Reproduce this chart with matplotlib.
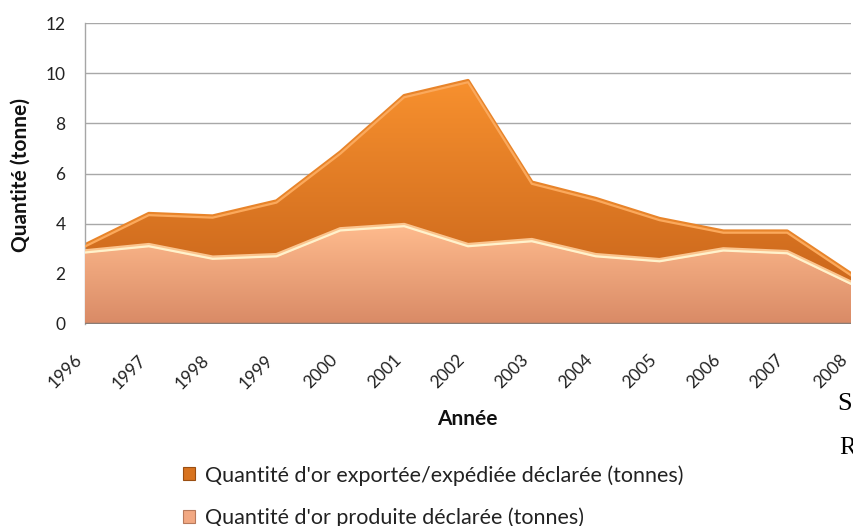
import numpy as np
import matplotlib
matplotlib.use("Agg")
import matplotlib.pyplot as plt
from matplotlib.patches import Polygon, Patch
from matplotlib.colors import LinearSegmentedColormap
import matplotlib.transforms as mtransforms

plt.rcParams['font.family'] = ['Lato', 'DejaVu Sans']

years = ['1996', '1997', '1998', '1999', '2000', '2001', '2002',
         '2003', '2004', '2005', '2006', '2007', '2008']
exportee = [3.15, 4.4, 4.3, 4.9, 6.85, 9.1, 9.7, 5.65, 5.0, 4.2, 3.7, 3.7, 2.0]
produite = [2.9, 3.15, 2.65, 2.75, 3.78, 3.95, 3.15, 3.35, 2.75, 2.55, 2.98, 2.87, 1.65]
yticks = [0, 2, 4, 6, 8, 10, 12]

label_exp = "Quantité d'or exportée/expédiée déclarée (tonnes)"
label_prod = "Quantité d'or produite déclarée (tonnes)"

W, H = 854, 526
fig = plt.figure(figsize=(W / 100, H / 100), dpi=100)
ax = fig.add_axes([85 / W, 1 - 324 / H, 766 / W, 301 / H])

x = np.arange(len(years))


def gradient_area(ax, xs, ys, stops, y_top, z):
    verts = [(xs[0], 0)] + list(zip(xs, ys)) + [(xs[-1], 0)]
    poly = Polygon(verts, closed=True, facecolor='none', edgecolor='none',
                   transform=ax.transData)
    ax.add_patch(poly)
    cmap = LinearSegmentedColormap.from_list('g', stops)
    grad = np.linspace(0, 1, 256).reshape(-1, 1)
    im = ax.imshow(grad, cmap=cmap, aspect='auto', origin='lower',
                   extent=[xs[0], xs[-1], 0, y_top], zorder=z,
                   interpolation='bilinear')
    im.set_clip_path(poly)
    return poly


gradient_area(ax, x, exportee,
              [(0, '#CC6A1E'), (0.25, '#D06C1E'), (1, '#F9922F')], 10, 2)
ax.plot(x, exportee, color='#E8842A', lw=2.6, zorder=2.5, solid_joinstyle='round')
ax.plot(x, np.array(exportee) - 0.06, color='#FBA95C', lw=1.6, zorder=2.6,
        solid_joinstyle='round')

gradient_area(ax, x, produite,
              [(0, '#D98A66'), (1, '#FFBC8E')], 4, 3)
ax.plot(x, produite, color='#FBC48E', lw=3.0, zorder=3.5, solid_joinstyle='round')
ax.plot(x, np.array(produite) - 0.05, color='#FFF2CC', lw=1.6, zorder=3.6,
        solid_joinstyle='round')

ax.axhline(0, color='#8A7D75', lw=2.5, zorder=4)

ax.set_xlim(x[0], x[-1])
ax.set_ylim(0, 12)
ax.set_yticks(yticks)
ax.set_yticklabels([str(v) for v in yticks])
ax.set_xticks(x)
ax.set_xticklabels(years, rotation=45, ha='right', va='top')
offset = mtransforms.ScaledTranslation(6 / 100, 0, fig.dpi_scale_trans)
for lab in ax.get_xticklabels():
    lab.set_transform(lab.get_transform() + offset)

ax.tick_params(axis='both', length=0, labelsize=12.5, colors='#222222')
ax.tick_params(axis='y', pad=14)
ax.tick_params(axis='x', pad=20)
ax.grid(axis='y', color='#A8A8A8', lw=1, zorder=0)
ax.set_axisbelow(True)
for s in ['top', 'right', 'bottom']:
    ax.spines[s].set_visible(False)
ax.spines['left'].set_color('#A6A6A6')
ax.spines['left'].set_linewidth(1)

fig.text(21 / W, 1 - 175 / H, 'Quantité (tonne)', rotation=90, ha='center',
         va='center', fontsize=15, fontweight='bold', color='#111111')
fig.text(467 / W, 1 - 419 / H, 'Année', ha='center', va='center',
         fontsize=15, fontweight='bold', color='#111111')

handles = [Patch(facecolor='#D8731F', edgecolor='#9A4E12', lw=0.8),
           Patch(facecolor='#F2A882', edgecolor='#B87A5C', lw=0.8)]
fig.legend(handles, [label_exp, label_prod], loc='upper left',
           bbox_to_anchor=(183 / W, 1 - 465 / H), frameon=False,
           fontsize=15.5, handlelength=0.55, handleheight=0.55,
           handletextpad=0.45, labelspacing=1.0, borderaxespad=0,
           borderpad=0, labelcolor='#222222')

fig.text(837 / W, 1 - 404 / H, 'S', ha='left', va='center', fontsize=19,
         family=['Liberation Serif'], color='#000000')
fig.text(839 / W, 1 - 448 / H, 'R', ha='left', va='center', fontsize=18,
         family=['Liberation Serif'], color='#000000')

fig.savefig('out.png', dpi=100)
